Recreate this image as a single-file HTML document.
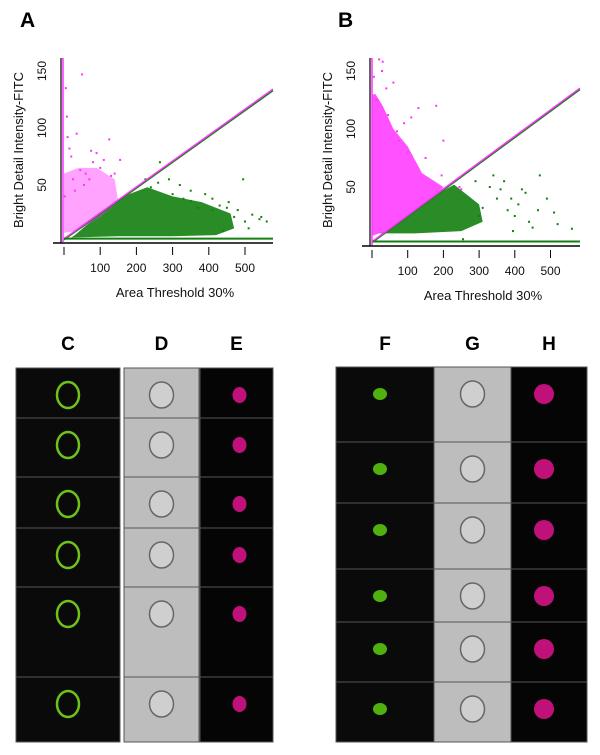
<!DOCTYPE html>
<html><head><meta charset="utf-8">
<style>
body{margin:0;background:#fff;width:600px;height:755px;overflow:hidden;font-family:"Liberation Sans",sans-serif;}
svg{position:absolute;left:0;top:0}
</style></head>
<body>
<svg id="fig" width="600" height="755" viewBox="0 0 600 755"></svg>
<script>
const xTicks=[0,100,200,300,400,500];
const xTickLabels=["","100","200","300","400","500"];
const yTicks=[50,100,150];
const yTickLabels=["50","100","150"];
// panel A data
const aGreenRegion=[[20,4],[150,5],[300,5],[420,6],[470,12],[460,25],[380,35],[300,40],[230,48],[180,42],[100,25],[30,6]];
const aMagentaRegion=[[0,8],[40,10],[100,22],[150,35],[140,55],[90,65],[40,65],[0,60]];
const aGreenX=[470,500,520,540,560,450,430,480,410,390,350,320,290,260,240,225,330,370,440,510,545,495,265,300,350,410,455];
const aGreenY=[22,18,24,20,18,30,32,28,38,42,45,50,55,52,48,55,38,30,10,12,22,55,70,42,36,28,35];
const aMagX=[50,5,8,10,35,75,90,110,125,80,60,20,15,45,100,140,155,130,70,25,2,30,55];
const aMagY=[147,135,110,92,95,80,78,72,90,70,60,75,82,63,65,60,72,58,55,55,40,45,50];
// panel B data
const bMagentaRegion=[[0,8],[40,12],[120,30],[180,42],[200,50],[140,62],[100,85],[60,100],[30,120],[10,130],[0,130]];
const bGreenRegion=[[20,10],[120,10],[250,12],[310,20],[300,35],[230,52],[190,45],[120,30],[40,12]];
const bMagX=[20,30,28,60,130,180,200,110,90,70,45,5,12,100,150,40,75,195,245,250];
const bMagY=[160,158,150,140,118,120,90,110,105,98,112,145,125,80,75,135,90,60,50,48];
const bGreenX=[340,370,390,430,470,465,510,520,440,410,400,380,360,350,330,290,310,490,560,450,420,255,300,395];
const bGreenY=[60,55,40,45,60,30,28,18,20,35,25,30,48,40,50,55,32,40,14,15,48,5,25,12];

const NS="http://www.w3.org/2000/svg";
const svg=document.getElementById('fig');
const GREEN='#128010';
function mk(tag,attrs,parent){const e=document.createElementNS(NS,tag);for(const k in attrs)e.setAttribute(k,attrs[k]);(parent||svg).appendChild(e);return e;}

function panel(letter,lx,ox,oy,sx,sy,left,right,greenReg,magReg,gX,gY,mX,mY,dense){
  const g=mk('g',{});
  
  
  const X=v=>ox+v*sx, Y=v=>oy-v*sy;
  const lab=mk('text',{x:lx,y:27,'font-size':21,'font-weight':'bold'},g);lab.textContent=letter;
  
  
  const poly=(reg,col,op,name)=>{const p=mk('polygon',{points:reg.map(d=>X(d[0])+','+Y(d[1])).join(' '),fill:col,'fill-opacity':op},g);
    };
  poly(greenReg,GREEN,0.9,'green-population-'+letter.toLowerCase());
  poly(magReg,'#ff33ff',dense?0.85:0.45,'magenta-population-'+letter.toLowerCase());
  gX.forEach((v,i)=>{const r=mk('rect',{x:X(v)-1,y:Y(gY[i])-1,width:2,height:2,fill:GREEN},g);
    });
  mX.forEach((v,i)=>{const r=mk('rect',{x:X(v)-1,y:Y(mY[i])-1,width:2,height:2,fill:'#ff33ff'},g);
    });
  const d1=mk('line',{x1:X(0),y1:Y(2),x2:right,y2:Y(0.23*((right-ox)/sx)),stroke:GREEN,'stroke-width':1.5},g);
  
  const d2=mk('line',{x1:X(0),y1:Y(2)-1,x2:right,y2:Y(0.23*((right-ox)/sx))-1.5,stroke:'#ff33ff','stroke-width':1.5},g);
  
  const gh=mk('line',{x1:X(0),y1:Y(3),x2:right,y2:Y(3),stroke:GREEN,'stroke-width':2},g);
  
  const mv=mk('line',{x1:left+2,y1:58,x2:left+2,y2:oy,stroke:'#ff33ff','stroke-width':1.5},g);
  
  const ya=mk('line',{x1:left,y1:58,x2:left,y2:oy+1,stroke:'#000','stroke-width':1.2},g);
  
  const xa=mk('line',{x1:left-8,y1:oy+1,x2:right,y2:oy+1,stroke:'#000','stroke-width':1.5},g);
  
  xTicks.forEach((t,i)=>{
    const tk=mk('line',{x1:X(t),y1:oy+5,x2:X(t),y2:oy+13,stroke:'#000','stroke-width':1},g);
    
    const tl=mk('text',{x:X(t),y:oy+30,'font-size':12,'text-anchor':'middle',fill:'#111'},g);tl.textContent=xTickLabels[i];
    
  });
  yTicks.forEach((t,i)=>{
    const tl=mk('text',{x:0,y:0,'font-size':12,'text-anchor':'middle',fill:'#111',transform:`translate(${left-15},${Y(t)}) rotate(-90)`},g);tl.textContent=yTickLabels[i];
    
  });
  const xt=mk('text',{x:(left+right)/2+8,y:oy+55,'font-size':13,'text-anchor':'middle',fill:'#111'},g);xt.textContent='Area Threshold 30%';
  
  const yt=mk('text',{x:0,y:0,'font-size':13,'text-anchor':'middle',fill:'#111',transform:`translate(${left-38},150) rotate(-90)`},g);yt.textContent='Bright Detail Intensity-FITC';
  
}
panel('A',20,64,242,0.362,1.14,61,273,aGreenRegion,aMagentaRegion,aGreenX,aGreenY,aMagX,aMagY,false);
panel('B',338,372,245,0.357,1.16,370,580,bGreenRegion,bMagentaRegion,bGreenX,bGreenY,bMagX,bMagY,true);

function gallery(id,labels,cols,rows,labelY){
  const g=mk('g',{});
  
  
  labels.forEach((l,i)=>{const t=mk('text',{x:(cols[i][0]+cols[i][1])/2,y:labelY,'font-size':19,'font-weight':'bold','text-anchor':'middle'},g);t.textContent=l;
    });
  const bgs=['#0a0a0a','#bdbdbd','#050505'];
  for(let r=0;r<rows.length-1;r++){
    for(let c=0;c<3;c++){
      const x0=cols[c][0],x1=cols[c][1],y0=rows[r],y1=rows[r+1];
      const cell=mk('rect',{x:x0,y:y0,width:x1-x0,height:y1-y0,fill:bgs[c],stroke:'#555','stroke-width':1},g);
      
      const cx=(x0+x1)/2+(c==2?(id=='left'?3:-5):(c==0?(id=='left'?0:-5):0)), cy=y0+Math.min(25,(y1-y0)/2)+2;
      let e;
      if(c==0){
        if(id=='left') e=mk('ellipse',{cx,cy,rx:11,ry:13,fill:'none',stroke:'#6fc21a','stroke-width':2.5},g);
        else e=mk('ellipse',{cx,cy,rx:7,ry:6,fill:'#4fb010'},g);
      } else if(c==1){
        e=mk('ellipse',{cx,cy,rx:12,ry:13,fill:'#cfcfcf',stroke:'#666','stroke-width':1.5},g);
      } else {
        e=mk('ellipse',{cx,cy,rx:id=='left'?7:10,ry:id=='left'?8:10,fill:'#c0107a'},g);
      }
      
    }
  }
}
gallery('left',['C','D','E'],[[16,120],[124,199],[200,273]],[368,418,477,528,587,677,742],350);
gallery('right',['F','G','H'],[[336,434],[434,511],[511,587]],[367,442,503,569,622,682,742],350);
</script>
</body></html>
